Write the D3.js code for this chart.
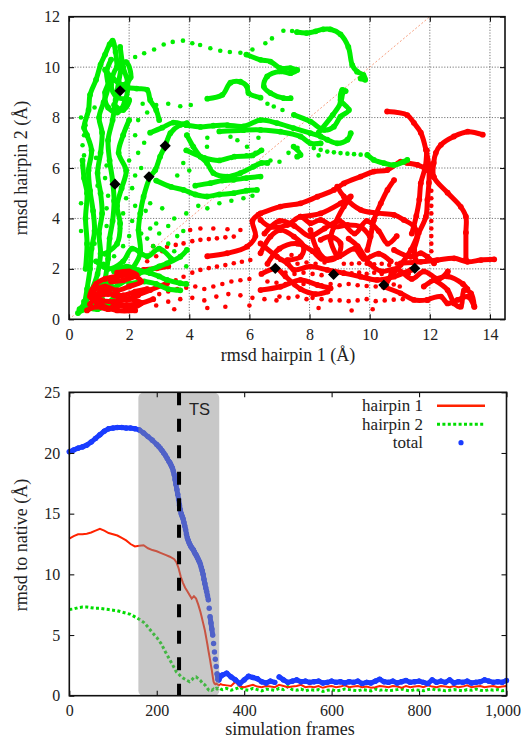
<!DOCTYPE html>
<html>
<head>
<meta charset="utf-8">
<script src="https://cdn.jsdelivr.net/npm/d3@7"></script>
<style>
  body { margin: 0; background: #fff; }
  svg text { font-family: "Liberation Serif", "Times New Roman", serif; fill: #222; }
</style>
</head>
<body>
<svg id="chart" width="521" height="738"></svg>
<script>
// ---------- top panel: rmsd hairpin 1 vs hairpin 2 ----------
const hp1Ticks = [0, 2, 4, 6, 8, 10, 12, 14];
const hp2Ticks = [0, 2, 4, 6, 8, 10, 12];

// continuous trajectory stretches (hairpin 1 rmsd, hairpin 2 rmsd)
const greenTracks = [
  [[0.4,0.35],[0.65,0.45],[0.5,0.7],[0.8,0.55],[1.1,0.8],[0.75,1.05],[0.55,0.55],[0.95,0.4],[1.3,0.65],[1.6,1.1],[1.25,1.4],[0.85,1.25],[0.5,0.6],[0.35,0.4]],
  [[0.5,0.5],[0.6,1.2],[0.7,2.0],[0.75,2.8],[0.85,3.5],[0.8,4.3],[0.7,5.1],[0.65,5.9],[0.75,6.7],[0.6,7.3],[0.5,7.6],[0.65,8.3],[0.7,8.9],[0.9,9.5],[1.05,10.1],[1.2,10.5],[1.35,10.9],[1.45,11.05],[1.55,10.6],[1.6,10.0]],
  [[1.0,0.8],[1.2,1.6],[1.3,2.4],[1.35,3.2],[1.45,3.9],[1.5,4.7],[1.45,5.5],[1.35,6.3],[1.3,7.1],[1.45,7.9],[1.55,8.7],[1.65,9.4],[1.75,10.2],[1.7,10.8],[1.8,10.0],[1.95,9.4],[1.85,8.6],[1.6,8.2],[1.3,8.4],[1.2,9.0],[1.45,9.6]],
  [[0.7,1.0],[0.95,1.8],[1.05,2.6],[1.0,3.4],[1.1,4.2],[1.05,5.0],[0.95,5.8],[1.05,6.6],[1.1,7.4],[1.0,8.0],[1.15,8.6],[1.3,9.2],[1.25,9.8],[1.4,10.3]],
  [[0.55,2.0],[0.6,3.0],[0.55,4.0],[0.6,5.0],[0.5,5.6],[0.45,6.3]],
  [[1.2,2.6],[1.6,3.0],[1.7,3.8],[1.6,4.5],[1.75,5.2],[1.9,5.9],[1.65,6.6],[1.8,7.3],[2.0,7.9]],
  [[0.9,2.3],[1.3,2.0],[1.8,2.3],[2.1,2.8],[2.6,2.5],[3.0,2.8],[3.4,2.4]],
  [[2.0,1.4],[2.5,1.5],[2.9,1.4],[3.3,1.2],[3.7,1.15]],
  [[1.2,9.9],[1.5,9.5],[1.8,9.3],[2.05,9.6],[1.9,10.2],[1.6,10.0],[1.4,9.3],[1.6,8.8],[2.0,8.7],[1.8,8.3],[1.5,8.5]],
  [[1.7,9.2],[2.25,9.15],[2.6,9.1],[2.7,8.7],[2.9,8.3],[3.0,7.9]],
  [[2.7,7.4],[3.1,7.6],[3.47,7.8],[3.9,7.7],[4.37,7.63],[4.8,7.68],[5.27,7.7],[5.8,7.65],[6.37,7.9],[6.92,7.78],[7.47,7.58],[8.03,7.38],[8.37,7.25],[8.59,7.12],[8.92,6.98],[9.26,7.12],[9.37,7.38]],
  [[5.0,7.45],[5.8,7.5],[6.37,7.51],[7.03,7.44],[7.7,7.25],[8.03,6.98],[8.37,6.98]],
  [[3.92,7.3],[4.13,6.85],[4.37,6.45],[4.59,6.2],[4.8,5.8],[5.26,5.66],[5.7,5.8],[6.13,6.05],[6.4,6.2],[6.6,6.2]],
  [[3.9,6.7],[4.5,6.4],[5.0,6.3],[5.5,6.45],[6.1,6.5],[6.4,6.7]],
  [[4.6,8.75],[5.1,8.9],[5.37,9.38],[5.7,9.42],[5.92,9.23],[5.97,8.97],[6.37,8.79]],
  [[5.9,10.5],[6.37,10.29],[6.7,10.22],[7.03,9.96],[7.37,9.96],[7.59,9.89],[7.37,9.76],[7.03,9.83],[6.59,9.63],[6.48,9.23],[6.7,8.97],[7.14,8.77],[7.37,8.77]],
  [[7.48,8.11],[8.03,7.84],[8.48,7.51],[8.81,7.64],[9.03,8.04],[9.31,8.3],[9.03,8.7],[9.09,9.1],[9.2,9.05]],
  [[8.3,7.4],[8.77,8.1],[9.03,8.58],[9.1,8.98]],
  [[7.58,11.39],[7.9,11.35],[8.2,11.42],[8.45,11.5],[8.69,11.5],[9.03,11.3],[9.29,10.8],[9.42,10.08],[9.58,9.82],[9.79,9.69],[9.85,9.5],[9.7,9.55]],
  [[9.92,6.52],[10.14,6.32],[10.48,6.19],[10.81,6.12],[11.14,6.25],[11.25,6.32]],
  [[7.47,6.85],[7.7,6.52],[7.59,6.45]],
  [[2.9,5.5],[3.4,5.25],[3.81,5.13],[4.2,4.95],[4.59,4.87],[5.0,4.95],[5.48,5.0],[5.9,5.1],[6.25,5.13]],
  [[4.2,5.3],[4.7,5.4],[5.1,5.5],[5.48,5.53],[5.9,5.6],[6.37,5.66]],
  [[3.92,7.78],[3.7,7.71],[3.37,7.38],[3.2,6.88],[3.03,6.45],[2.87,5.92],[2.7,5.65],[2.48,4.86],[2.37,4.2],[2.31,3.54],[2.37,2.62],[2.1,2.0]],
  [[0.3,0.25],[0.7,0.6],[1.03,0.9],[1.5,1.25],[1.92,1.56],[2.3,1.8],[2.7,1.96],[3.0,2.1],[3.26,2.22],[3.7,2.48],[3.92,2.75]],
  [[1.5,1.9],[1.92,2.09],[2.3,1.95],[2.7,1.83],[3.0,1.7],[3.26,1.56],[3.7,1.43],[3.9,1.4]]
];

// isolated frames (fast moves)
const greenFrames = [
  [2.2,10.4],[2.5,10.55],[2.83,10.7],[3.15,10.9],[3.45,11.0],[3.79,11.05],[4.1,10.95],[4.36,10.88],[4.7,10.75],[5.03,10.65],[5.35,10.6],[5.7,10.57],
  [6.1,10.7],[6.53,10.95],[6.75,11.14],[7.13,11.44],[7.42,11.43],
  [6.6,8.55],[6.81,8.44],[7.1,8.3],
  [8.14,6.79],[8.37,6.72],[8.59,6.65],[8.81,6.62],[9.03,6.59],[9.26,6.57],[9.48,6.55],[9.7,6.53],
  [0.45,6.1],[0.5,6.5],[0.45,6.9],[0.5,7.3],[0.55,7.7],[0.6,8.1],[0.85,8.4],[0.4,8.0],
  [1.15,2.2],[1.5,2.5],[1.8,2.9],[2.0,3.3],[1.7,3.6],[2.1,3.9],[1.8,4.2],[2.2,4.5],[1.9,4.8],[2.1,5.2],[2.2,5.7],[2.4,6.0],
  [2.6,3.2],[2.8,2.9],[3.0,3.4],[3.3,3.0],[3.5,2.7],[3.6,3.3],[2.9,3.8],[2.55,4.3],[2.7,4.6],[3.1,4.4],
  [1.3,4.9],[1.2,5.6],[1.25,6.1],[0.9,6.4],[2.0,6.3],[2.3,6.6],[2.5,7.0],[2.2,7.3],[1.9,7.6],[2.3,7.9],[2.6,8.2],[2.45,8.55],
  [2.9,8.5],[3.3,8.55],[3.7,8.45],[4.05,8.5],
  [3.5,4.0],[3.9,4.2],[4.3,4.5],[4.6,4.4],[5.0,4.6],[5.4,4.7],[5.8,4.8],[6.1,4.9],
  [3.8,6.2],[4.0,5.9],[3.6,5.7],[5.4,6.4],[5.9,6.5],[6.2,6.6],[4.6,7.2],[5.6,7.1],[6.3,7.2],
  [7.6,6.8],[7.3,6.6],[6.7,6.3],[7.0,6.25],[8.3,6.5],[4.59,6.84],[5.37,7.24],[5.92,6.84],
  [0.85,3.0],[0.4,3.5],[1.25,3.7],[0.4,4.6],[1.25,4.4],[0.95,5.3],[2.4,3.4],[2.7,3.6],[3.3,3.7],[3.8,3.5],[3.9,2.1]
];

const redTracks = [
  [[0.7,0.9],[1.03,1.43],[1.59,1.69],[2.14,1.83],[2.48,1.96],[2.92,2.02],[3.3,2.1]],
  [[0.81,0.5],[1.37,0.63],[1.92,0.57],[2.37,0.63],[2.8,0.8]],
  [[2.13,0.9],[2.7,1.16],[3.26,1.43]],
  [[4.6,2.5],[5.26,2.62],[5.92,2.88],[6.2,3.3],[6.1,3.9],[6.3,4.15]],
  [[6.37,4.2],[7.03,4.47],[7.7,4.6],[8.26,4.86],[8.81,5.13],[9.14,5.39],[9.7,5.66],[10.14,5.86],[10.59,5.92],[11.03,6.25],[11.25,6.2],[11.59,6.12],[11.92,5.92],[12.13,5.65]],
  [[8.92,5.26],[9.14,4.87],[9.7,4.34],[10.25,4.21],[10.81,4.14],[11.14,3.94],[11.48,3.67],[11.59,3.28],[11.48,2.75],[11.53,2.36]],
  [[11.03,2.22],[11.7,2.28],[12.25,2.35],[12.81,2.42],[13.25,2.28],[13.7,2.35],[14.14,2.38]],
  [[12.14,1.56],[12.59,1.16],[12.81,0.63],[13.03,0.5],[13.14,1.16],[13.37,1.03],[13.48,0.5]],
  [[11.8,1.3],[12.14,1.56],[12.6,1.7],[13.1,1.4],[13.25,1.2]],
  [[13.76,7.32],[13.26,7.44],[12.8,7.25],[12.37,6.92],[12.2,6.6],[12.13,6.2],[12.13,5.65],[12.59,5.02],[13.03,4.46],[13.2,4.07],[13.2,3.44],[13.2,2.37]],
  [[10.58,8.24],[11.25,8.1],[11.47,7.79],[11.7,7.4],[11.87,6.72],[11.97,6.05],[11.97,5.42],[11.92,4.74],[11.87,4.07],[11.63,3.42],[11.37,2.75],[11.03,2.16],[10.7,1.7],[10.5,1.3]],
  [[11.9,6.7],[11.85,6.05],[11.7,5.4],[11.65,4.75],[11.55,4.1],[11.4,3.4]],
  [[6.37,3.94],[6.7,3.67],[7.26,3.74],[7.7,4.07],[8.03,3.81],[8.37,3.94],[8.81,3.67],[9.26,3.74],[9.7,3.67],[10.0,3.3]],
  [[8.03,3.54],[8.26,2.75],[8.59,2.35],[8.92,2.48],[9.03,3.01],[8.7,3.28],[8.37,3.15]],
  [[6.37,3.01],[6.92,2.48],[7.26,2.22],[7.48,1.96],[8.03,2.09],[8.59,1.96],[9.14,1.83],[9.7,1.69],[10.25,1.56],[10.81,1.69],[11.37,1.96]],
  [[6.37,1.16],[7.03,1.29],[7.7,1.56],[8.26,1.36],[8.7,1.23]],
  [[9.92,2.75],[10.03,3.28],[10.14,3.94],[10.37,4.6],[10.59,5.13],[10.81,5.52]],
  [[10.81,2.75],[11.37,2.48],[11.7,2.62],[11.92,2.48],[12.14,2.22]],
  [[6.37,2.62],[6.7,3.28],[7.03,3.54],[7.48,3.28],[7.81,2.88],[7.7,2.48],[7.26,2.35]],
  [[7.7,4.07],[8.37,4.2],[9.03,4.6],[9.37,4.87],[9.14,4.47],[8.81,3.67],[8.7,3.15],[8.92,2.48]],
  [[11.92,0.77],[12.37,0.9],[12.59,0.63],[12.92,0.77],[13.26,0.9],[13.48,0.5]],
  [[10.47,1.29],[11.03,1.03],[11.47,0.77],[11.92,0.77]],
  [[6.5,3.4],[7.0,3.9],[7.5,3.7],[8.0,3.3],[8.5,3.6],[9.0,3.9],[9.5,3.4],[9.9,3.9],[10.3,3.5],[10.6,3.0],[10.9,3.3]],
  [[6.6,2.2],[7.0,2.8],[7.6,3.0],[8.1,2.7],[8.4,2.4],[9.0,2.5],[9.5,2.8],[9.8,2.4],[10.3,2.6],[10.7,2.3]],
  [[9.3,3.2],[9.6,2.9],[10.0,2.2],[10.4,1.9],[10.9,2.0],[11.4,1.6],[11.8,1.9],[12.3,1.6],[12.6,1.9]],
  [[6.4,1.8],[6.9,2.0],[7.2,1.7],[7.7,1.2],[8.2,1.0],[8.6,1.1]]
];

const redBlob = [
  [[0.6,0.35],[0.9,0.5],[1.3,0.4],[1.7,0.55],[2.1,0.45],[2.4,0.65],[2.0,0.8],[1.5,0.7],[1.0,0.8],[0.8,1.1],[1.2,1.3],[1.6,1.15],[2.0,1.3],[2.4,1.5],[2.1,1.75],[1.6,1.7],[1.2,1.6],[0.9,1.4],[0.7,0.9],[1.1,0.55],[1.6,0.35],[2.2,0.35]],
  [[1.4,1.5],[1.8,1.55],[2.25,1.75],[2.0,1.9],[1.6,1.85]],
  [[0.9,0.9],[1.3,1.0],[1.8,0.95],[2.2,1.1],[2.6,1.2]],
  [[0.7,0.6],[1.1,1.15],[1.5,0.95],[1.9,0.8],[2.3,0.95]]
];

const redFrames = [
  [12.05,5.1],[12.05,4.8],[12.05,4.5],[12.05,4.2],[12.05,3.9],[12.05,3.6],[12.05,3.3],[12.05,3.0],[12.05,2.7],
  [3.55,1.55],[3.81,1.69],[4.1,1.85],[4.37,1.96],[4.65,2.03],[4.92,2.09],[5.2,2.15],[5.48,2.22],[5.75,2.28],[6.03,2.35],
  [4.03,3.54],[4.37,3.6],[4.8,3.6],[5.27,3.57],[5.7,3.54],
  [3.26,2.88],[3.55,2.95],[3.81,3.01],[4.1,3.1],[4.37,3.15],[4.65,3.18],[4.92,3.21],[5.2,3.25],[5.48,3.28],
  [3.0,1.0],[3.3,1.1],[3.6,1.2],[3.9,1.25],[4.2,1.3],[4.5,1.2],[4.8,1.3],[5.1,1.4],[5.4,1.5],[5.7,1.55],[6.0,1.6],
  [2.9,0.55],[3.3,0.7],[3.7,0.8],[4.1,0.85],[4.5,0.75],[4.9,0.9],[5.3,1.0],[5.7,0.95],[6.1,0.85],[6.5,0.8],[6.9,0.75],
  [7.3,2.3],[7.6,2.2],[7.9,2.25],[8.2,2.2],[8.5,2.25],[9.14,2.2],[9.4,2.2],[9.65,2.22],[9.9,2.2],[10.15,2.18],[10.4,2.2],[10.65,2.15],[10.9,2.2],[11.2,2.25],
  [7.2,1.85],[7.5,1.8],[7.8,1.85],[8.1,1.8],[8.4,1.75],[9.14,1.85],[9.4,1.82],[9.65,1.85],[9.9,1.8],[10.15,1.85],[10.4,1.8],[10.7,1.82],[11.0,1.85],[11.3,1.8],
  [6.6,1.5],[6.9,1.45],[7.2,1.4],[7.5,1.35],[7.8,1.4],[8.4,1.35],[8.7,1.4],[9.0,1.35],[9.3,1.4],[9.6,1.35],[9.9,1.32],[10.2,1.3],[10.8,1.38],[11.0,1.3],
  [7.0,0.9],[7.3,0.85],[7.6,0.9],[7.9,0.8],[8.1,0.85],[8.4,0.8],[8.7,0.75],[9.0,0.75],[9.3,0.72],[9.6,0.75],[9.9,0.8],[10.2,0.72],[10.5,0.75],[10.8,0.78],[11.1,0.8],
  [3.5,0.4],[4.6,0.45],[5.2,0.5],[6.0,0.55],[8.3,0.45],[9.4,0.35],[10.1,0.4],
  [2.6,2.3],[2.9,2.5],[3.1,2.7],[2.8,2.9],[3.4,2.4],[7.03,2.35],[7.4,2.55],[7.8,2.75]
];

const keyFrames = [[1.70,9.06],[3.2,6.88],[2.66,5.65],[1.53,5.36],[6.86,2.02],[8.8,1.78],[10.47,1.36],[11.5,2.02]];

// ---------- bottom panel: rmsd to native vs simulation frames ----------
const frames = [
  0,10,20,30,40,50,60,70,80,90,100,110,120,130,140,150,160,170,180,190,200,210,220,230,240,
  245,250,255,260,265,270,275,280,285,290,295,
  300,302,304,306,308,310,312,314,316,318,320,322,324,326,328,330,332,334,336,338,340,342,344,346,
  350,360,370,380,390,400,410,420,430,440,
  450,460,470,480,490,500,510,520,530,540,
  550,560,570,580,590,600,610,620,630,640,
  650,660,670,680,690,700,710,720,730,740,
  750,760,770,780,790,800,810,820,830,840,
  850,860,870,880,890,900,910,920,930,940,
  950,960,970,980,990,1000
];
const hairpin1 = [
  12.95,13.15,13.3,13.3,13.35,13.45,13.6,13.75,13.6,13.4,13.3,13.2,13.0,12.8,12.5,12.3,12.35,12.4,12.15,12.0,11.9,11.75,11.6,11.45,11.25,
  11.0,10.5,9.8,9.3,8.9,8.6,8.3,8.0,8.2,8.0,7.5,
  6.9,6.6,6.3,6.0,5.7,5.4,5.0,4.6,4.2,3.76,3.35,2.95,2.5,2.1,1.6,1.15,1.0,0.95,1.0,0.95,0.9,0.85,0.9,0.95,
  0.9,0.85,0.8,1.15,0.75,0.7,0.8,0.9,0.75,0.7,
  0.8,0.75,0.7,0.9,0.8,0.7,0.75,0.8,0.9,0.7,
  0.75,0.7,0.8,0.65,0.75,0.8,0.7,0.75,0.85,0.7,
  0.75,0.8,0.7,0.75,0.65,0.7,0.8,0.75,0.7,0.8,
  0.75,0.65,0.8,0.7,0.75,0.8,0.7,0.85,0.75,0.7,
  0.8,0.75,0.7,0.8,0.7,0.75,0.85,0.7,0.75,0.8,
  0.7,0.75,0.8,0.7,0.75,0.8
];
const hairpin2 = [
  7.1,7.15,7.25,7.3,7.3,7.25,7.2,7.2,7.15,7.1,7.05,7.0,6.9,6.8,6.7,6.5,6.3,6.05,5.65,5.2,4.8,4.3,3.6,2.95,2.3,
  1.95,1.8,1.6,1.45,1.35,1.25,1.15,1.3,1.5,1.55,1.4,
  1.25,1.15,1.05,1.0,0.95,0.9,0.8,0.7,0.6,0.5,0.45,0.45,0.5,0.45,0.5,0.55,0.5,0.55,0.6,0.55,0.6,0.55,0.6,0.55,
  0.5,0.6,0.45,0.55,0.7,0.5,0.45,0.6,0.5,0.4,
  0.55,0.5,0.45,0.6,0.5,0.75,0.5,0.45,0.55,0.4,
  0.5,0.45,0.5,0.35,0.45,0.5,0.4,0.45,0.55,0.5,
  0.45,0.4,0.5,0.45,0.4,0.55,0.45,0.5,0.4,0.45,
  0.5,0.55,0.45,0.4,0.5,0.45,0.4,0.5,0.55,0.45,
  0.5,0.4,0.45,0.5,0.45,0.4,0.5,0.45,0.55,0.45,
  0.4,0.5,0.45,0.5,0.4,0.45
];
// total is read more finely through the transition
const totalFrames = [
  0,10,20,30,40,50,60,70,80,90,100,110,120,130,140,150,160,170,180,190,
  200,204,208,212,216,220,224,228,
  230,232,234,236,238,240,242,244,246,248,
  250,252,254,256,258,260,262,264,266,268,
  270,272,274,276,278,280,282,284,286,288,
  290,292,294,296,298,300,302,304,306,308,
  310,312,314,316,318,320,322,324,326,328,
  330,332,334,336,338,340,342,344,346,
  350,360,370,380,390,400,410,420,430,440,
  450,460,470,480,490,500,510,520,530,540,
  550,560,570,580,590,600,610,620,630,640,
  650,660,670,680,690,700,710,720,730,740,
  750,760,770,780,790,800,810,820,830,840,
  850,860,870,880,890,900,910,920,930,940,
  950,960,970,980,990,1000
];
const total = [
  20.1,20.25,20.4,20.5,20.65,20.9,21.2,21.5,21.8,22.0,22.05,22.1,22.1,22.05,22.05,22.0,21.9,21.65,21.35,21.05,
  20.7,20.55,20.4,20.2,20.0,19.8,19.55,19.3,
  19.2,19.05,18.9,18.75,18.5,18.2,17.8,17.4,17.0,16.6,
  16.2,15.7,15.3,15.0,14.8,14.6,14.3,14.0,13.7,13.3,
  13.0,12.8,12.6,12.45,12.3,12.2,12.1,12.0,11.85,11.7,
  11.6,11.45,11.3,11.15,11.0,10.8,10.55,10.3,10.0,9.6,
  9.25,8.9,8.6,8.25,7.9,7.2,6.5,6.0,5.5,5.0,
  4.3,3.6,3.0,2.4,1.8,1.35,1.3,1.5,1.6,
  1.7,1.85,1.55,1.3,1.0,1.3,1.6,1.5,1.4,1.15,
  1.05,1.2,1.1,1.55,1.3,1.1,1.2,1.3,1.15,1.2,
  1.1,1.15,1.2,1.05,1.1,1.2,1.1,1.15,1.05,1.15,
  1.1,1.2,1.0,1.1,1.05,1.2,1.35,1.15,1.1,1.2,
  1.05,1.15,1.25,1.1,1.15,1.2,1.1,1.0,1.3,1.1,
  1.2,1.1,1.3,1.05,1.15,1.1,1.2,1.05,1.1,1.15,
  1.3,1.2,1.1,1.15,1.1,1.25
];
const frameTicks = [0, 200, 400, 600, 800, 1000];
const rmsdTicks = [0, 5, 10, 15, 20, 25];
const tsWindow = [158, 343];
const tsFrame = 251;
const legendItems = ["hairpin 1", "hairpin 2", "total"];

const RED = "#ff0000", GREEN = "#00ee00";
const C1 = "#ff2200", C2 = "#00dd00", CT = "#1a3cff";

const svg = d3.select("#chart");

// ================= top panel =================
const x1 = d3.scaleLinear().domain([0, 14.5]).range([69, 505]);
const y1 = d3.scaleLinear().domain([0, 12]).range([319.3, 16.7]);
const upper = svg.append("g");

const grid = upper.append("g").attr("stroke", "#666").attr("stroke-width", 0.9).attr("stroke-dasharray", "1.2,1.6");
grid.selectAll(".gx").data(hp1Ticks.slice(1)).join("line")
  .attr("x1", d => x1(d)).attr("x2", d => x1(d)).attr("y1", y1(0)).attr("y2", y1(12));
grid.selectAll(".gy").data(hp2Ticks.slice(1, -1)).join("line")
  .attr("y1", d => y1(d)).attr("y2", d => y1(d)).attr("x1", x1(0)).attr("x2", x1(14.5));

// y = x reference
upper.append("line")
  .attr("x1", x1(0)).attr("y1", y1(0)).attr("x2", x1(12)).attr("y2", y1(12))
  .attr("stroke", "#f7a080").attr("stroke-width", 1).attr("stroke-dasharray", "2,2");

const trackLine = d3.line().x(d => x1(d[0])).y(d => y1(d[1])).curve(d3.curveCatmullRom);

function drawTracks(tracks, color) {
  const g = upper.append("g");
  tracks.forEach(t => {
    g.append("path").datum(t).attr("d", trackLine)
      .attr("fill", "none").attr("stroke", color).attr("stroke-width", 5)
      .attr("stroke-linecap", "round").attr("stroke-linejoin", "round");
    g.append("g").selectAll("circle").data(t).join("circle")
      .attr("cx", d => x1(d[0])).attr("cy", d => y1(d[1])).attr("r", 2.9).attr("fill", color);
  });
}
function drawFrames(pts, color) {
  upper.append("g").selectAll("circle").data(pts).join("circle")
    .attr("cx", d => x1(d[0])).attr("cy", d => y1(d[1])).attr("r", 2.3).attr("fill", color);
}

drawTracks(redTracks, RED);
drawFrames(redFrames, RED);
drawTracks(greenTracks, GREEN);
drawFrames(greenFrames, GREEN);
drawTracks(redBlob, RED);

upper.append("g").selectAll("path").data(keyFrames).join("path")
  .attr("d", d3.symbol(d3.symbolSquare, 62)())
  .attr("transform", d => `translate(${x1(d[0])},${y1(d[1])}) rotate(45)`)
  .attr("fill", "#000");

function frameAxes(g, x, y, xt, yt, fmt) {
  const xb = g.append("g").attr("transform", `translate(0,${y.range()[0]})`)
    .call(d3.axisBottom(x).tickValues(xt).tickSize(-5).tickPadding(9).tickFormat(fmt));
  g.append("g").attr("transform", `translate(0,${y.range()[1]})`)
    .call(d3.axisTop(x).tickValues(xt).tickSize(-5).tickFormat(""));
  g.append("g").attr("transform", `translate(${x.range()[0]},0)`)
    .call(d3.axisLeft(y).tickValues(yt).tickSize(-5).tickPadding(9));
  g.append("g").attr("transform", `translate(${x.range()[1]},0)`)
    .call(d3.axisRight(y).tickValues(yt).tickSize(-5).tickFormat(""));
  g.selectAll(".domain").remove();
  g.selectAll(".tick line").attr("stroke", "#111").attr("stroke-width", 1.1);
  g.selectAll(".tick text").attr("font-size", 16).attr("fill", "#222")
    .style("font-family", "'Liberation Serif', serif");
  g.append("rect")
    .attr("x", x.range()[0]).attr("y", y.range()[1])
    .attr("width", x.range()[1] - x.range()[0]).attr("height", y.range()[0] - y.range()[1])
    .attr("fill", "none").attr("stroke", "#111").attr("stroke-width", 1.6);
  return xb;
}
frameAxes(upper, x1, y1, hp1Ticks, hp2Ticks, d3.format("d"));

upper.append("text").attr("x", 288).attr("y", 361).attr("text-anchor", "middle")
  .attr("font-size", 18).text("rmsd hairpin 1 (Å)");
upper.append("text").attr("transform", "translate(27,168) rotate(-90)").attr("text-anchor", "middle")
  .attr("font-size", 18).text("rmsd hairpin 2 (Å)");

// ================= bottom panel =================
const x2 = d3.scaleLinear().domain([0, 1000]).range([69.3, 506.5]);
const y2 = d3.scaleLinear().domain([0, 25]).range([695.7, 392.3]);
const lower = svg.append("g");

const series = frames.map((f, i) => ({ f, h1: hairpin1[i], h2: hairpin2[i] }));
const totalSeries = totalFrames.map((f, i) => ({ f, t: total[i] }));

lower.append("path").datum(series)
  .attr("d", d3.line().x(d => x2(d.f)).y(d => y2(d.h2)))
  .attr("fill", "none").attr("stroke", C2).attr("stroke-width", 3).attr("stroke-dasharray", "3,2.4");
lower.append("path").datum(series)
  .attr("d", d3.line().x(d => x2(d.f)).y(d => y2(d.h1)))
  .attr("fill", "none").attr("stroke", C1).attr("stroke-width", 2);

// total: points, joined only where consecutive frames sit close together
const tg = lower.append("g");
totalSeries.slice(1).forEach((d, i) => {
  const p = totalSeries[i];
  const dx = x2(d.f) - x2(p.f), dy = y2(d.t) - y2(p.t);
  if (Math.hypot(dx, dy) < 6.5) {
    tg.append("line").attr("x1", x2(p.f)).attr("y1", y2(p.t)).attr("x2", x2(d.f)).attr("y2", y2(d.t))
      .attr("stroke", CT).attr("stroke-width", 5).attr("stroke-linecap", "round");
  }
});
tg.selectAll("circle").data(totalSeries).join("circle")
  .attr("cx", d => x2(d.f)).attr("cy", d => y2(d.t)).attr("r", 2.7).attr("fill", CT);

// transition-state window
lower.append("rect")
  .attr("x", x2(tsWindow[0])).attr("y", y2(25) + 0.5)
  .attr("width", x2(tsWindow[1]) - x2(tsWindow[0])).attr("height", y2(0) - y2(25) - 0.5)
  .attr("rx", 5).attr("fill", "#8c8c8c").attr("opacity", 0.48);
lower.append("line")
  .attr("x1", x2(tsFrame)).attr("x2", x2(tsFrame)).attr("y1", y2(25)).attr("y2", y2(0))
  .attr("stroke", "#000").attr("stroke-width", 4).attr("stroke-dasharray", "13,13.5");
lower.append("text").attr("x", x2(tsFrame) + 10).attr("y", 415)
  .style("font-family", "'Liberation Sans', Arial, sans-serif").attr("font-size", 16.5).text("TS");

const xb2 = frameAxes(lower, x2, y2, frameTicks, rmsdTicks, d3.format(","));
// last label kept inside the page, as in the original
xb2.selectAll(".tick text").filter(d => d === 1000).attr("text-anchor", "end").attr("x", 14);

lower.append("text").attr("x", 290).attr("y", 735).attr("text-anchor", "middle")
  .attr("font-size", 18).text("simulation frames");
lower.append("text").attr("transform", "translate(27,545) rotate(-90)").attr("text-anchor", "middle")
  .attr("font-size", 18).text("rmsd to native (Å)");

// legend
const lg = lower.append("g");
legendItems.forEach((name, i) => {
  const ly = 405.7 + i * 18.5;
  lg.append("text").attr("x", 423).attr("y", ly + 5.5).attr("text-anchor", "end")
    .attr("font-size", 17).text(name);
  if (i === 0) {
    lg.append("line").attr("x1", 437).attr("x2", 485).attr("y1", ly).attr("y2", ly)
      .attr("stroke", C1).attr("stroke-width", 2.5);
  } else if (i === 1) {
    lg.append("line").attr("x1", 437).attr("x2", 485).attr("y1", ly).attr("y2", ly)
      .attr("stroke", C2).attr("stroke-width", 3).attr("stroke-dasharray", "3,2.4");
  } else {
    lg.append("circle").attr("cx", 461).attr("cy", ly).attr("r", 2.6).attr("fill", CT);
  }
});
</script>
</body>
</html>
